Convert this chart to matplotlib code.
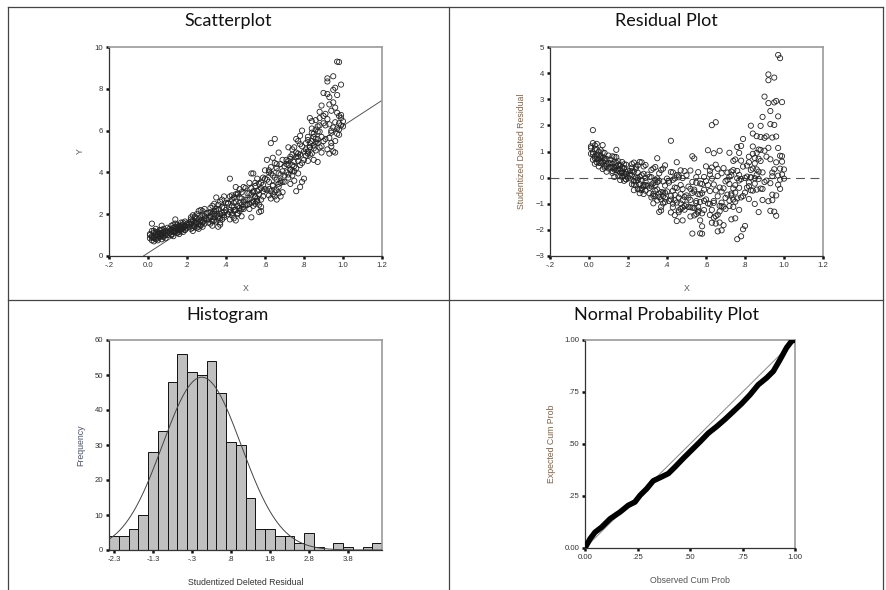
import numpy as np
import matplotlib
matplotlib.use("Agg")
import matplotlib.pyplot as plt
from matplotlib.lines import Line2D

# ---------------- data ----------------
x_0 = [0.01,0.01,0.02,0.02,0.02,0.03,0.03,0.03,0.04,0.04,0.04,0.05,0.05,0.05,0.06,
       0.06,0.06,0.07,0.07,0.07,0.08,0.08,0.08,0.09,0.09,0.09,0.10,0.10,0.01,0.02,
       0.03,0.04,0.05,0.06,0.07,0.08,0.09,0.02,0.03,0.05,0.06,0.08,0.04,0.07,0.10]
y_0 = [0.85,1.05,0.75,0.95,1.20,0.90,1.10,0.70,1.00,0.80,1.30,0.95,1.15,0.85,1.05,
       1.25,0.90,1.00,1.45,0.80,1.10,0.95,1.30,1.00,1.20,0.85,1.15,1.35,1.00,1.55,
       0.85,1.15,0.75,1.10,1.25,0.90,1.05,0.90,1.20,1.05,0.95,1.15,0.90,1.10,1.00]
x_1 = [0.11,0.11,0.12,0.12,0.12,0.13,0.13,0.13,0.14,0.14,0.14,0.15,0.15,0.15,0.16,
       0.16,0.16,0.17,0.17,0.17,0.18,0.18,0.18,0.19,0.19,0.19,0.20,0.20,0.11,0.12,
       0.13,0.14,0.15,0.16,0.17,0.18,0.19,0.12,0.14,0.15,0.17,0.18,0.13,0.16,0.19]
y_1 = [1.10,1.30,1.00,1.25,1.45,1.15,1.35,0.95,1.20,1.40,1.75,1.10,1.30,1.50,1.25,
       1.45,1.05,1.35,1.60,1.20,1.30,1.50,1.15,1.40,1.65,1.25,1.35,1.55,1.20,1.15,
       1.50,1.30,1.40,1.15,1.45,1.35,1.25,1.05,1.55,1.25,1.30,1.60,1.20,1.35,1.45]
x_2 = [0.21,0.21,0.22,0.22,0.22,0.23,0.23,0.23,0.24,0.24,0.24,0.25,0.25,0.25,0.26,
       0.26,0.26,0.27,0.27,0.27,0.28,0.28,0.28,0.29,0.29,0.29,0.30,0.30,0.21,0.22,
       0.23,0.24,0.25,0.26,0.27,0.28,0.29,0.22,0.24,0.25,0.27,0.28,0.23,0.26,0.29]
y_2 = [1.40,1.60,1.30,1.55,1.85,1.45,1.70,1.20,1.60,1.50,1.90,1.35,1.65,1.80,1.55,
       2.15,1.40,1.70,2.20,1.50,1.65,1.95,1.40,1.80,2.25,1.55,1.75,2.05,1.50,1.75,
       1.35,1.85,1.60,1.75,1.45,2.15,1.90,1.65,1.40,2.00,1.85,1.60,1.95,1.30,1.70]
x_3 = [0.31,0.31,0.32,0.32,0.32,0.33,0.33,0.33,0.34,0.34,0.34,0.35,0.35,0.35,0.36,
       0.36,0.36,0.37,0.37,0.37,0.38,0.38,0.38,0.39,0.39,0.39,0.40,0.40,0.31,0.32,
       0.33,0.34,0.35,0.36,0.37,0.38,0.39,0.32,0.34,0.35,0.37,0.38,0.33,0.36,0.39]
y_3 = [1.75,2.05,1.55,1.90,2.30,1.70,2.00,1.45,1.85,2.15,2.50,1.65,1.95,2.80,1.40,
       2.25,1.80,2.00,2.60,1.60,1.95,2.35,1.75,2.10,2.85,1.85,2.20,2.55,1.60,2.10,
       2.40,1.70,2.15,1.90,1.50,2.05,2.30,1.85,2.00,2.25,1.80,2.70,1.65,2.45,1.95]
x_4 = [0.41,0.41,0.42,0.42,0.42,0.43,0.43,0.43,0.44,0.44,0.44,0.45,0.45,0.45,0.46,
       0.46,0.46,0.47,0.47,0.47,0.48,0.48,0.48,0.49,0.49,0.49,0.50,0.50,0.41,0.42,
       0.43,0.44,0.45,0.46,0.47,0.48,0.49,0.42,0.44,0.45,0.47,0.48,0.43,0.46,0.50]
y_4 = [2.00,2.55,3.70,2.20,1.75,2.70,2.05,2.90,2.35,1.80,2.80,2.20,2.60,1.70,2.40,
       2.95,2.00,2.55,3.20,2.15,2.45,3.05,1.90,2.60,3.30,2.25,2.70,3.25,2.50,2.10,
       2.40,2.55,2.95,2.05,2.30,2.75,2.35,2.85,2.20,3.30,2.80,2.25,1.95,3.00,2.45]
x_5 = [0.51,0.51,0.52,0.52,0.52,0.53,0.53,0.53,0.54,0.54,0.54,0.55,0.55,0.55,0.56,
       0.56,0.56,0.57,0.57,0.57,0.58,0.58,0.58,0.59,0.59,0.59,0.60,0.60,0.51,0.52,
       0.53,0.54,0.55,0.56,0.57,0.58,0.59,0.52,0.54,0.55,0.57,0.58,0.53,0.56,0.60]
y_5 = [2.45,3.00,2.70,3.50,2.25,1.85,3.25,2.55,3.05,3.95,2.40,2.80,3.35,2.50,3.10,
       3.70,2.60,2.10,2.95,3.45,2.15,3.25,2.70,3.75,2.85,3.10,3.20,4.10,2.70,3.00,
       3.95,2.60,3.50,2.75,3.15,2.35,3.40,2.50,3.10,2.85,2.45,3.50,2.95,2.65,3.70]
x_6 = [0.61,0.61,0.62,0.62,0.62,0.63,0.63,0.63,0.64,0.64,0.64,0.65,0.65,0.65,0.66,
       0.66,0.66,0.67,0.67,0.67,0.68,0.68,0.68,0.69,0.69,0.69,0.70,0.70,0.61,0.62,
       0.63,0.64,0.65,0.66,0.67,0.68,0.69,0.62,0.64,0.65,0.67,0.68,0.63,0.66,0.70]
y_6 = [3.15,4.60,2.90,3.55,4.00,5.40,3.10,2.75,4.70,3.35,3.85,5.60,3.05,2.85,3.65,
       4.20,2.70,3.30,3.95,3.00,4.40,3.50,2.85,4.05,3.55,4.60,3.85,4.30,3.65,3.20,
       4.25,3.40,3.75,3.15,4.95,3.60,3.05,4.10,2.95,4.45,3.45,3.90,3.95,4.40,3.55]
x_7 = [0.71,0.71,0.72,0.72,0.72,0.73,0.73,0.73,0.74,0.74,0.74,0.75,0.75,0.75,0.76,
       0.76,0.76,0.77,0.77,0.77,0.78,0.78,0.78,0.79,0.79,0.79,0.80,0.80,0.71,0.72,
       0.73,0.74,0.75,0.76,0.77,0.78,0.79,0.72,0.74,0.75,0.77,0.78,0.73,0.76,0.80]
y_7 = [4.00,4.60,3.75,4.35,5.20,4.10,3.45,4.75,4.35,3.85,5.10,4.50,4.05,3.60,3.10,
       4.75,4.20,5.50,4.55,3.95,3.30,4.85,5.75,4.45,5.25,3.55,4.60,5.00,4.40,3.90,
       4.15,4.85,4.30,5.60,4.90,4.35,6.00,4.55,4.05,5.20,4.75,5.35,4.65,4.95,3.70]
x_8 = [0.81,0.81,0.82,0.82,0.82,0.83,0.83,0.83,0.84,0.84,0.84,0.85,0.85,0.85,0.86,
       0.86,0.86,0.87,0.87,0.87,0.88,0.88,0.88,0.89,0.89,0.89,0.90,0.90,0.81,0.82,
       0.83,0.84,0.85,0.86,0.87,0.88,0.89,0.82,0.84,0.85,0.87,0.88,0.83,0.86,0.90]
y_8 = [4.80,5.40,5.00,4.55,5.70,6.60,5.20,4.85,5.50,6.10,4.90,5.30,5.85,4.60,5.60,
       6.50,5.05,4.50,5.95,5.40,6.25,5.20,6.90,5.70,4.95,7.20,5.50,6.35,5.10,5.55,
       5.40,5.90,5.15,6.05,5.60,6.60,5.25,4.90,6.45,5.70,6.20,5.95,5.20,5.45,6.70]
x_9 = [0.91,0.91,0.92,0.92,0.92,0.93,0.93,0.93,0.94,0.94,0.94,0.95,0.95,0.95,0.96,
       0.96,0.96,0.97,0.97,0.97,0.98,0.98,0.98,0.99,0.99,0.99,1.00,1.00,0.90,0.92,
       0.93,0.94,0.95,0.96,0.97,0.98,0.99,0.92,0.94,0.95,0.97,0.98,0.93,0.96,0.91]
y_9 = [5.60,6.80,8.50,5.10,7.75,7.60,4.90,6.30,5.40,6.95,5.90,8.60,5.00,7.35,8.05,
       4.95,6.40,9.30,7.70,6.10,9.28,6.70,5.80,8.20,6.25,6.60,6.20,6.45,7.80,8.35,
       7.25,6.00,7.95,5.50,6.85,6.05,6.75,6.55,5.25,6.15,5.85,6.35,5.65,7.10,6.25]

# histogram of studentized deleted residuals (bin width .25)
hist_first_center = -2.25
hist_width = 0.25
hist_counts = [4, 4, 6, 10, 28, 34, 48, 56, 51, 50, 54, 45, 31, 30, 15,
               6, 6, 4, 4, 2, 5, 1, 0, 2, 1, 0, 1, 2]
hist_tick_labels = ["-2.3", "-1.3", "-.3", ".8", "1.8", "2.8", "3.8"]

# normal P-P plot curve
pp_observed = [0.000, 0.024, 0.048, 0.079, 0.119, 0.167, 0.206, 0.238, 0.262, 0.294,
               0.325, 0.365, 0.397, 0.429, 0.468, 0.508, 0.548, 0.587, 0.627, 0.667,
               0.706, 0.746, 0.786, 0.825, 0.865, 0.897, 0.929, 0.960, 0.984, 1.000]
pp_expected = [0.000, 0.044, 0.076, 0.100, 0.140, 0.173, 0.205, 0.221, 0.253, 0.285,
               0.323, 0.342, 0.358, 0.390, 0.431, 0.471, 0.511, 0.552, 0.584, 0.619,
               0.656, 0.694, 0.737, 0.785, 0.818, 0.850, 0.906, 0.963, 0.995, 1.000]

x_tick_vals = [-0.2, 0.0, 0.2, 0.4, 0.6, 0.8, 1.0, 1.2]
x_tick_labels = ["-.2", "0.0", ".2", ".4", ".6", ".8", "1.0", "1.2"]
pp_tick_vals = [0.0, 0.25, 0.5, 0.75, 1.0]
pp_tick_labels = ["0.00", ".25", ".50", ".75", "1.00"]

X = np.array(x_0 + x_1 + x_2 + x_3 + x_4 + x_5 + x_6 + x_7 + x_8 + x_9)
Y = np.array(y_0 + y_1 + y_2 + y_3 + y_4 + y_5 + y_6 + y_7 + y_8 + y_9)

# regression & studentized deleted residuals
n = len(X)
b1, b0 = np.polyfit(X, Y, 1)
fit = b0 + b1 * X
e = Y - fit
h = 1.0 / n + (X - X.mean()) ** 2 / np.sum((X - X.mean()) ** 2)
sse = np.sum(e ** 2)
p = 2
s2_del = (sse - e ** 2 / (1 - h)) / (n - p - 1)
sdr = e / np.sqrt(s2_del * (1 - h))

# ---------------- styling ----------------
TICK_FONT = "Liberation Sans"
TITLE_FONT = "Lato"
LABEL_BROWN = "#7d6148"
LABEL_GRAY = "#555555"

W, H = 886, 590
fig = plt.figure(figsize=(W / 100, H / 100), dpi=100)
fig.patch.set_facecolor("white")


def frac_axes(left, top, right, bottom):
    return fig.add_axes([left / W, 1 - bottom / H, (right - left) / W, (bottom - top) / H])


def style_axes(ax):
    for s in ["left", "bottom"]:
        ax.spines[s].set_color("#333333")
        ax.spines[s].set_linewidth(0.9)
    for s in ["top", "right"]:
        ax.spines[s].set_color("#9a9a9a")
        ax.spines[s].set_linewidth(1.2)
    ax.tick_params(direction="out", length=2.2, width=1.8, color="#111111",
                   labelsize=5.6, pad=2, labelcolor="#333333")
    for lab in ax.get_xticklabels() + ax.get_yticklabels():
        lab.set_fontfamily(TICK_FONT)


# grid lines of the panel frame
frame_kw = dict(color="#444444", lw=0.9, transform=fig.transFigure)
fig.add_artist(Line2D([8 / W, 8 / W], [0, 1 - 7 / H], **frame_kw))
fig.add_artist(Line2D([883 / W, 883 / W], [0, 1 - 7 / H], **frame_kw))
fig.add_artist(Line2D([8 / W, 883 / W], [1 - 7 / H, 1 - 7 / H], **frame_kw))
fig.add_artist(Line2D([8 / W, 883 / W], [1 - 300 / H, 1 - 300 / H], **frame_kw))
fig.add_artist(Line2D([449 / W, 449 / W], [0, 1 - 7 / H], **frame_kw))

title_kw = dict(fontsize=13, family=TITLE_FONT, ha="center", va="center", color="#111111")
fig.text(228 / W, 1 - 21 / H, "Scatterplot", **title_kw)
fig.text(666 / W, 1 - 21 / H, "Residual Plot", **title_kw)
fig.text(228 / W, 1 - 315 / H, "Histogram", **title_kw)
fig.text(666 / W, 1 - 315 / H, "Normal Probability Plot", **title_kw)

lab_kw = dict(fontsize=6.3, family=TICK_FONT)

# ---- Scatterplot ----
ax1 = frac_axes(109, 47, 382, 256)
ax1.scatter(X, Y, s=14, facecolors="none", edgecolors="#222222", linewidths=0.6, zorder=3)
xl = np.array([-0.2, 1.2])
ax1.plot(xl, b0 + b1 * xl, color="#555555", lw=0.7, zorder=2)
ax1.set_xlim(-0.2, 1.2)
ax1.set_ylim(0, 10)
ax1.set_xticks(x_tick_vals)
ax1.set_xticklabels(x_tick_labels)
ax1.set_yticks([0, 2, 4, 6, 8, 10])
ax1.set_xlabel("X", color=LABEL_GRAY, labelpad=11, **lab_kw)
ax1.set_ylabel("Y", color=LABEL_GRAY, labelpad=7, **lab_kw)
style_axes(ax1)

# ---- Residual plot ----
ax2 = frac_axes(550, 47, 823, 256)
ax2.scatter(X, sdr, s=14, facecolors="none", edgecolors="#222222", linewidths=0.6, zorder=3)
ax2.axhline(0, color="#555555", lw=0.8, ls=(0, (8, 5)), zorder=2)
ax2.set_xlim(-0.2, 1.2)
ax2.set_ylim(-3, 5)
ax2.set_xticks(x_tick_vals)
ax2.set_xticklabels(x_tick_labels)
ax2.set_yticks(range(-3, 6))
ax2.set_xlabel("X", color=LABEL_GRAY, labelpad=11, **lab_kw)
ax2.set_ylabel("Studentized Deleted Residual", color=LABEL_BROWN, labelpad=7, **lab_kw)
style_axes(ax2)

# ---- Histogram ----
ax3 = frac_axes(109, 340, 382, 550)
counts = np.array(hist_counts)
centers = hist_first_center + hist_width * np.arange(len(counts))
ax3.bar(centers, counts, width=hist_width, color="#c0c0c0", edgecolor="#111111",
        linewidth=0.7, zorder=2)
N = counts.sum()
mu = np.sum(counts * centers) / N
sd = np.sqrt(np.sum(counts * (centers - mu) ** 2) / (N - 1))
xs = np.linspace(centers[0] - hist_width / 2, centers[-1] + hist_width / 2, 400)
curve = N * hist_width / (sd * np.sqrt(2 * np.pi)) * np.exp(-0.5 * ((xs - mu) / sd) ** 2)
ax3.plot(xs, curve, color="#444444", lw=0.7, zorder=3)
ax3.set_xlim(centers[0] - hist_width / 2, centers[-1] + hist_width / 2)
ax3.set_ylim(0, 60)
ax3.set_yticks(range(0, 61, 10))
ax3.set_xticks(centers[::4][:len(hist_tick_labels)])
ax3.set_xticklabels(hist_tick_labels)
ax3.set_xlabel("Studentized Deleted Residual", color="#333333", labelpad=11, **lab_kw)
ax3.set_ylabel("Frequency", color="#4a5068", labelpad=7, **lab_kw)
style_axes(ax3)

# ---- Normal P-P plot ----
ax4 = frac_axes(585, 340, 795, 548)
ax4.plot([0, 1], [0, 1], color="#8a8a8a", lw=0.7, zorder=2)
ax4.plot(pp_observed, pp_expected, color="#000000", lw=4.0, solid_capstyle="round",
         solid_joinstyle="round", zorder=3)
ax4.set_xlim(0, 1)
ax4.set_ylim(0, 1)
ax4.set_xticks(pp_tick_vals)
ax4.set_xticklabels(pp_tick_labels)
ax4.set_yticks(pp_tick_vals)
ax4.set_yticklabels(pp_tick_labels)
ax4.set_xlabel("Observed Cum Prob", color=LABEL_GRAY, labelpad=11, **lab_kw)
ax4.set_ylabel("Expected Cum Prob", color=LABEL_BROWN, labelpad=6, **lab_kw)
style_axes(ax4)

fig.savefig("out.png", dpi=100, facecolor="white")
